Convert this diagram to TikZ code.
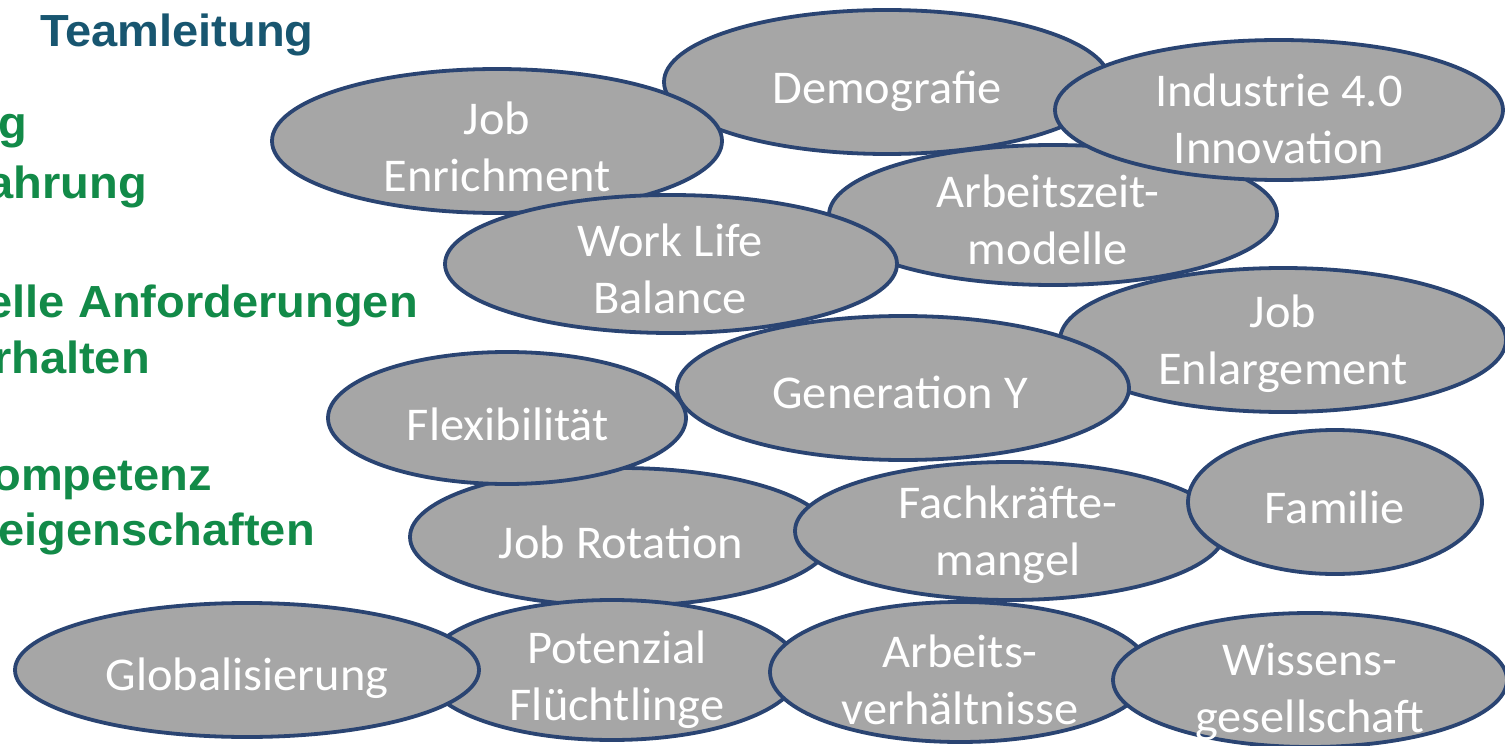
\documentclass[tikz,border=0pt]{standalone}
\usepackage{fontspec}
\setmainfont{Carlito}[FakeStretch=1.03]
\newfontfamily\arialf{Liberation Sans}[FakeStretch=1.045]
\usetikzlibrary{shapes.geometric}
\definecolor{bubfill}{RGB}{166,166,166}
\definecolor{bubline}{RGB}{42,68,114}
\definecolor{sidegreen}{RGB}{18,138,72}
\definecolor{sideteal}{RGB}{24,86,112}
\begin{document}
\begin{tikzpicture}[x=1pt,y=-1pt,
  bub/.style={ellipse, draw=bubline, fill=bubfill, line width=3.8pt, inner sep=0pt},
  lab/.style={text=white, font=\fontsize{47}{57}\selectfont, align=center, inner sep=0pt},
  side/.style={font=\arialf\bfseries\fontsize{45}{54}\selectfont, text=sidegreen, inner sep=0pt, anchor=base east}]
\useasboundingbox (0,0) rectangle (1505,746);
\fill[white] (0,0) rectangle (1505,746);
\clip (0,0) rectangle (1505,746);

% left texts
\node[side, text=sideteal, anchor=base west] (tl) at (40,47) {Teamleitung};
\node[side] (s1) at (27,139) {ng};
\node[side] (s2) at (147,199) {ahrung};
\node[side] (s3) at (418,317) {elle Anforderungen};
\node[side] (s4) at (150,373) {rhalten};
\node[side] (s5) at (212,490) {ompetenz};
\node[side] (s6) at (315,545) {eigenschaften};

% bubbles (drawing order matters)
\node[bub, minimum width=446pt, minimum height=144pt] (dem) at (887,82) {};
\node[bub, minimum width=448pt, minimum height=140pt] (azm) at (1053,215) {};
\node[bub, minimum width=448pt, minimum height=140pt] (ind) at (1279,110) {};
\node[bub, minimum width=450pt, minimum height=144pt] (enr) at (497,141) {};
\node[bub, minimum width=452pt, minimum height=138pt] (wlb) at (671,264) {};
\node[bub, minimum width=446pt, minimum height=144pt] (enl) at (1283,340) {};
\node[bub, minimum width=452pt, minimum height=144pt] (gen) at (903,388) {};
\node[bub, minimum width=422pt, minimum height=138pt] (rot) at (621,537) {};
\node[bub, minimum width=358pt, minimum height=132pt] (flx) at (507,418) {};
\node[bub, minimum width=430pt, minimum height=138pt] (fkm) at (1010,531) {};
\node[bub, minimum width=294pt, minimum height=144pt] (fam) at (1335,502) {};
\node[bub, minimum width=376pt, minimum height=140pt] (pot) at (612,670) {};
\node[bub, minimum width=464pt, minimum height=134pt] (glo) at (247,670) {};
\node[bub, minimum width=380pt, minimum height=140pt] (avh) at (960,672) {};
\node[bub, minimum width=394pt, minimum height=134pt] (wis) at (1310,680) {};

% labels
\node[lab] (tdem) at (887,91) {Demografie};
\node[lab] (tind) at (1279,119) {Industrie 4.0\\Innovation};
\node[lab] (tenr) at (497,147) {Job\\Enrichment};
\node[lab] (tazm) at (1048,220) {Arbeitszeit-\\modelle};
\node[lab] (twlb) at (670,269) {Work Life\\Balance};
\node[lab] (tenl) at (1283,344) {Job\\Enlargement};
\node[lab] (tgen) at (900,392) {Generation Y};
\node[lab] (tflx) at (508,424) {Flexibilität};
\node[lab] (trot) at (621,542) {Job Rotation};
\node[lab] (tfkm) at (1008,535) {Fachkräfte-\\mangel};
\node[lab] (tfam) at (1335,507) {Familie};
\node[lab] (tglo) at (247,678) {Globalisierung};
\node[lab] (tpot) at (617,680) {Potenzial\\Flüchtlinge};
\node[lab] (tavh) at (960,680) {Arbeits-\\verhältnisse};
\node[lab] (twis) at (1310,692) {Wissens-\\gesellschaft};
\end{tikzpicture}
\end{document}
